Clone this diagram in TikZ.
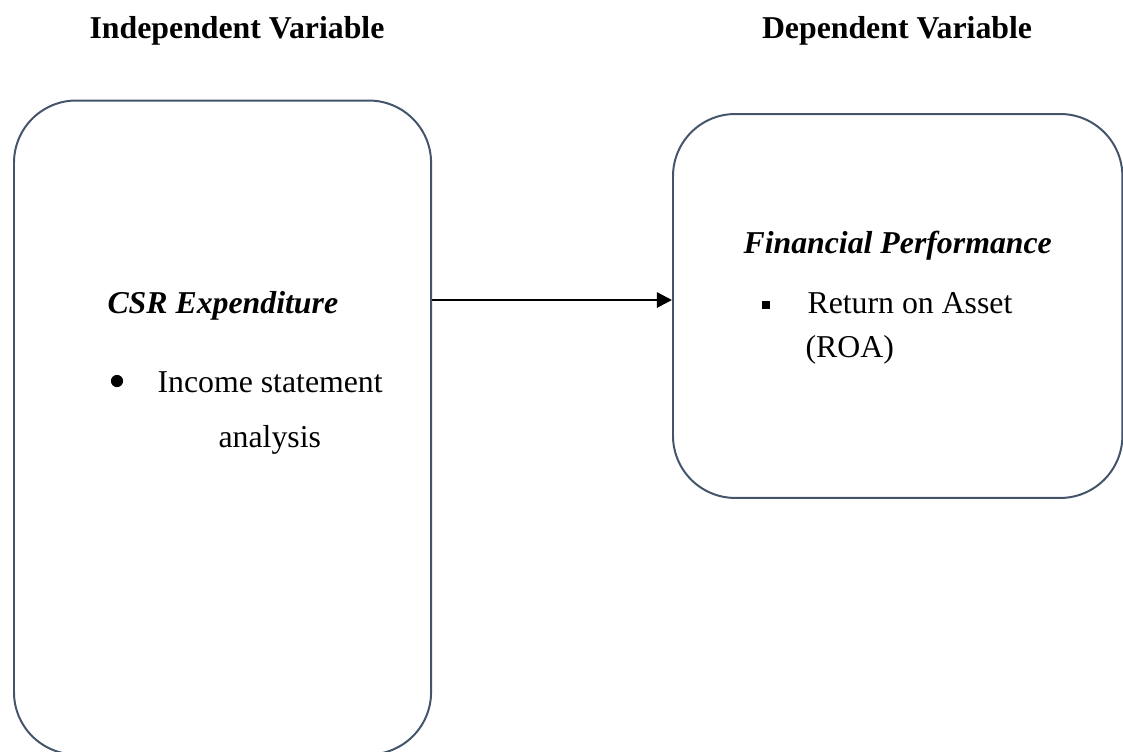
\documentclass[tikz,border=0pt]{standalone}
\usepackage{fontspec}
\setmainfont{Liberation Serif}
\usetikzlibrary{arrows.meta,calc}
\definecolor{boxline}{HTML}{44546A}
\tikzset{
  varbox/.style={draw=boxline, line width=0.75pt, rounded corners=23.5pt, inner sep=0pt},
  txt/.style={anchor=base west, inner sep=0pt, font=\fontsize{12}{14}\selectfont},
  head/.style={anchor=base, inner sep=0pt, font=\fontsize{12}{14}\selectfont\bfseries},
  link/.style={line width=1pt, -{Triangle[length=5.7pt,width=5.7pt]}}
}
\begin{document}
\begin{tikzpicture}[x=0.3774pt, y=-0.3774pt]
\useasboundingbox (0,0) rectangle (1123,751);
% headings
\node[head] (hi) at (237,38) {Independent Variable};
\node[head] (hd) at (897,38) {Dependent Variable};
% boxes
\node[varbox, minimum width=157.4pt, minimum height=246.8pt, anchor=north west] (L) at (13,99.5) {};
\node[varbox, minimum width=169.6pt, minimum height=144.9pt, anchor=north west] (R) at (672,113) {};
% left box text
\node[txt] (csr) at (107,313) {\bfseries\itshape CSR Expenditure};
\node[circle, fill=black, inner sep=0pt, minimum size=4.6pt] (b1) at (117,381) {};
\node[txt] (inc) at (157,392) {Income statement};
\node[txt] (ana) at (218,447) {analysis};
% right box text
\node[txt] (fp) at (743,253) {\bfseries\itshape Financial Performance};
\node[rectangle, fill=black, inner sep=0pt, minimum size=3.3pt] (b2) at (766,305) {};
\node[txt] (roa1) at (807,313) {Return on Asset};
\node[txt] (roa2) at (805,357) {(ROA)};
% arrow
\coordinate (ay) at (0,300);
\draw[link] (L.east |- ay) -- (R.west |- ay);
\end{tikzpicture}
\end{document}
